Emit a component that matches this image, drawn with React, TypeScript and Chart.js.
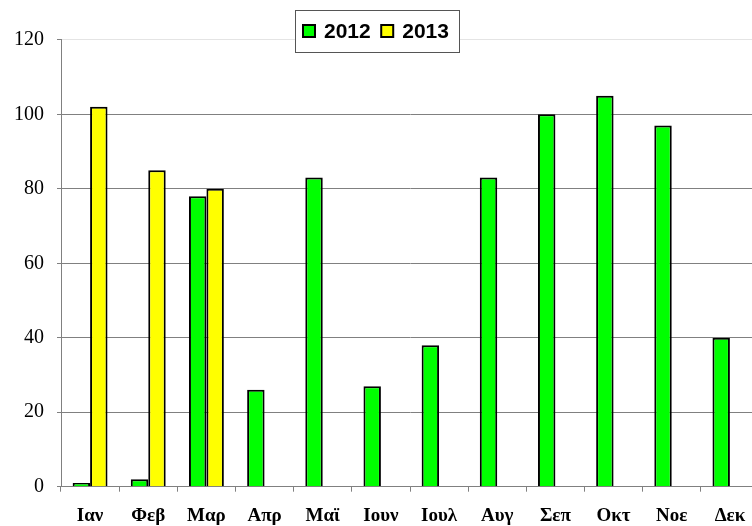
import { useEffect, useRef } from "react";
import { Chart, registerables } from "chart.js";

Chart.register(...registerables);

const months = ["Ιαν", "Φεβ", "Μαρ", "Απρ", "Μαϊ", "Ιουν", "Ιουλ", "Αυγ", "Σεπ", "Οκτ", "Νοε", "Δεκ"];
const seriesNames = ["2012", "2013"];
const values2012 = [1, 2, 78, 26, 83, 27, 38, 83, 100, 105, 97, 40];
const values2013: (number | null)[] = [102, 85, 80, null, null, null, null, null, null, null, null, null];
const seriesColors = ["#00FF00", "#FFFF00"];
const yTicks = [0, 20, 40, 60, 80, 100, 120];

const spacingPlugin = {
  id: "xLabelSpacing",
  afterDatasetsDraw(chart: any) {
    (chart.ctx as any).letterSpacing = "1.5px";
  },
};

const legendPlugin = {
  id: "boxLegend",
  afterDraw(chart: any) {
    const ctx = chart.ctx as CanvasRenderingContext2D;
    (ctx as any).letterSpacing = "0px";
    ctx.save();
    ctx.fillStyle = "#ffffff";
    ctx.fillRect(295.5, 10.5, 164, 42);
    ctx.strokeStyle = "#555555";
    ctx.lineWidth = 1;
    ctx.strokeRect(295.5, 10.5, 164, 42);
    ctx.font = "bold 21px 'Liberation Sans', Arial, sans-serif";
    ctx.textBaseline = "alphabetic";
    ctx.textAlign = "left";
    let x = 303;
    chart.data.datasets.forEach((ds: any) => {
      ctx.fillStyle = ds.backgroundColor;
      ctx.fillRect(x, 25, 12, 12);
      ctx.strokeStyle = "#000";
      ctx.lineWidth = 2;
      ctx.strokeRect(x, 25, 12, 12);
      ctx.fillStyle = "#000";
      ctx.fillText(ds.label, x + 21, 37.5);
      x += 21 + ctx.measureText(ds.label).width + 10.5;
    });
    ctx.restore();
  },
};

export default function App() {
  const ref = useRef<HTMLCanvasElement | null>(null);
  useEffect(() => {
    if (!ref.current) return;
    const chart = new Chart(ref.current, {
      type: "bar",
      data: {
        labels: months,
        datasets: [
          {
            label: seriesNames[0],
            data: values2012,
            backgroundColor: seriesColors[0],
            borderColor: "#000",
            borderWidth: 2,
            categoryPercentage: 0.6,
            barPercentage: 1.0,
          },
          {
            label: seriesNames[1],
            data: values2013,
            backgroundColor: seriesColors[1],
            borderColor: "#000",
            borderWidth: 2,
            categoryPercentage: 0.6,
            barPercentage: 1.0,
          },
        ],
      },
      options: {
        responsive: false,
        animation: false,
        devicePixelRatio: 1,
        layout: { padding: { top: 39.8, right: 11, bottom: 0, left: 0 } },
        plugins: { legend: { display: false }, tooltip: { enabled: false } },
        scales: {
          x: {
            z: 1,
            grid: {
              drawOnChartArea: false,
              drawTicks: true,
              tickLength: 5,
              color: "#808080",
              offset: true,
            },
            border: { color: "#808080", width: 1 },
            ticks: {
              font: { family: "'Liberation Serif', 'Times New Roman', serif", size: 19, weight: "bold" },
              color: "#000",
              padding: 13,
              maxRotation: 0,
              autoSkip: false,
            },
            afterFit: (s: any) => {
              s.height = 39.3;
            },
          },
          y: {
            min: yTicks[0],
            max: yTicks[yTicks.length - 1],
            ticks: {
              stepSize: 20,
              font: { family: "'Liberation Serif', 'Times New Roman', serif", size: 20 },
              color: "#000",
              padding: 13,
            },
            grid: {
              color: (c: any) => (c.tick && c.tick.value === 120 ? "#e4e4e4" : "#808080"),
              tickColor: "#808080",
              tickLength: 4,
              lineWidth: 1,
            },
            border: { color: "#808080", width: 1 },
            afterFit: (s: any) => {
              s.width = 61;
            },
          },
        },
      },
      plugins: [spacingPlugin, legendPlugin],
    });
    return () => chart.destroy();
  }, []);
  return (
    <div style={{ position: "fixed", left: 0, top: 0, width: 752, height: 526, overflow: "hidden", background: "#fff" }}>
      <canvas ref={ref} width={770} height={526} style={{ display: "block", width: 770, height: 526 }} />
    </div>
  );
}
